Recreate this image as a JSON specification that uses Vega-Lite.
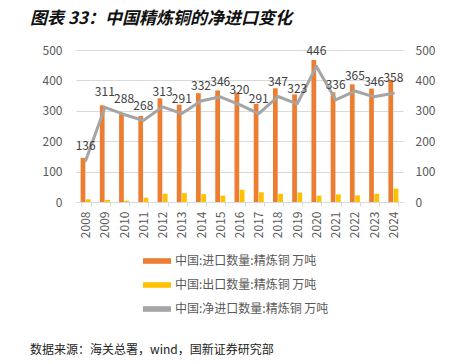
{
  "$schema": "https://vega.github.io/schema/vega-lite/v6.json",
  "background": "white",
  "padding": {"left": 30, "top": 10, "right": 5, "bottom": 8},
  "title": {
    "text": "数据来源：海关总署，wind，国新证券研究部",
    "orient": "bottom",
    "anchor": "start",
    "font": "Noto Sans CJK SC",
    "fontSize": 12,
    "fontWeight": "normal",
    "color": "#222222",
    "offset": 30
  },
  "config": {
    "font": "Noto Sans CJK SC",
    "view": {"stroke": null},
    "axis": {
      "labelColor": "#595959",
      "labelFontSize": 12,
      "labelFont": "Noto Sans CJK SC",
      "title": null
    }
  },
  "vconcat": [
    {
      "width": 327,
      "height": 152,
      "title": {
        "text": "图表 33：中国精炼铜的净进口变化",
        "orient": "top",
        "anchor": "start",
        "font": "Noto Sans CJK SC",
        "fontSize": 17,
        "fontWeight": "bold",
        "fontStyle": "italic",
        "color": "#111111",
        "dx": -12,
        "offset": 16
      },
      "data": {
        "values": [
          {"year": "2008", "imp": 145, "exp": 9, "net": 136},
          {"year": "2009", "imp": 318, "exp": 7, "net": 311},
          {"year": "2010", "imp": 292, "exp": 4, "net": 288},
          {"year": "2011", "imp": 283, "exp": 14, "net": 268},
          {"year": "2012", "imp": 341, "exp": 27, "net": 313},
          {"year": "2013", "imp": 320, "exp": 29, "net": 291},
          {"year": "2014", "imp": 358, "exp": 26, "net": 332},
          {"year": "2015", "imp": 367, "exp": 21, "net": 346},
          {"year": "2016", "imp": 360, "exp": 40, "net": 320},
          {"year": "2017", "imp": 323, "exp": 32, "net": 291},
          {"year": "2018", "imp": 374, "exp": 27, "net": 347},
          {"year": "2019", "imp": 354, "exp": 31, "net": 323},
          {"year": "2020", "imp": 467, "exp": 21, "net": 446},
          {"year": "2021", "imp": 361, "exp": 25, "net": 336},
          {"year": "2022", "imp": 387, "exp": 22, "net": 365},
          {"year": "2023", "imp": 373, "exp": 27, "net": 346},
          {"year": "2024", "imp": 402, "exp": 44, "net": 358}
        ]
      },
      "encoding": {
        "x": {
          "field": "year",
          "type": "ordinal",
          "scale": {"paddingInner": 0.48, "paddingOuter": 0.24},
          "axis": {
            "labelAngle": -90,
            "labelAlign": "right",
            "labelBaseline": "middle",
            "labelPadding": 5,
            "domainColor": "#D9D9D9",
            "tickColor": "#D9D9D9",
            "tickBand": "extent",
            "tickSize": 4,
            "grid": false
          }
        }
      },
      "layer": [
        {
          "transform": [{"fold": ["imp", "exp"], "as": ["k", "v"]}],
          "mark": {"type": "bar"},
          "encoding": {
            "xOffset": {"field": "k", "type": "nominal", "scale": {"domain": ["imp", "exp"], "paddingInner": 0.1}},
            "y": {
              "field": "v",
              "type": "quantitative",
              "scale": {"domain": [0, 500]},
              "axis": {
                "orient": "left",
                "values": [0, 100, 200, 300, 400, 500],
                "grid": true,
                "gridColor": "#D9D9D9",
                "domain": false,
                "ticks": false,
                "labelPadding": 14
              }
            },
            "color": {
              "field": "k",
              "type": "nominal",
              "scale": {"domain": ["imp", "exp", "net"], "range": ["#ED7D31", "#FFC000", "#A5A5A5"]},
              "legend": {
                "orient": "none",
                "legendX": 67,
                "legendY": 197,
                "direction": "vertical",
                "title": null,
                "symbolType": "M-1,-0.2H1V0.2H-1Z",
                "symbolSize": 784,
                "symbolStrokeWidth": 0,
                "labelFontSize": 12,
                "labelColor": "#595959",
                "labelOffset": 4,
                "rowPadding": 4,
                "labelExpr": "datum.label == 'imp' ? '中国:进口数量:精炼铜 万吨' : datum.label == 'exp' ? '中国:出口数量:精炼铜 万吨' : '中国:净进口数量:精炼铜 万吨'"
              }
            }
          }
        },
        {
          "encoding": {
            "y": {
              "field": "net",
              "type": "quantitative",
              "scale": {"domain": [0, 500]},
              "axis": {
                "orient": "right",
                "values": [0, 100, 200, 300, 400, 500],
                "grid": false,
                "domain": false,
                "ticks": false,
                "labelPadding": 12
              }
            }
          },
          "layer": [
            {
              "mark": {"type": "line", "strokeWidth": 3, "strokeCap": "round", "strokeJoin": "round"},
              "encoding": {
                "color": {"datum": "net", "type": "nominal"}
              }
            },
            {
              "mark": {"type": "text", "dy": -15, "fontSize": 12, "color": "#404040", "font": "Noto Sans CJK SC"},
              "encoding": {"text": {"field": "net", "type": "quantitative"}}
            }
          ]
        }
      ],
      "resolve": {"scale": {"y": "independent"}}
    }
  ]
}
